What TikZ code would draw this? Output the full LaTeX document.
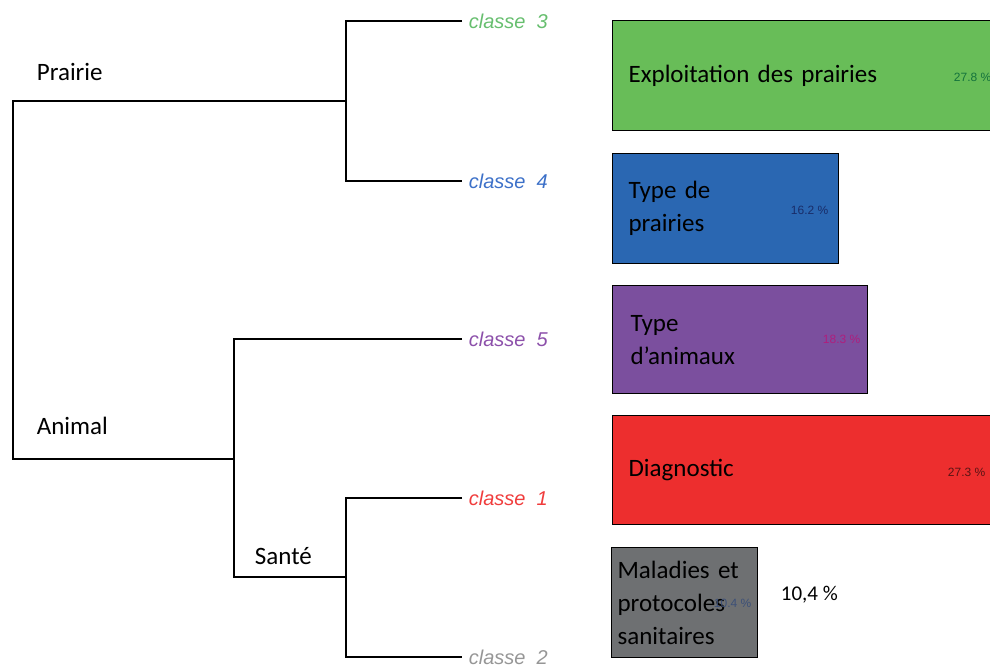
\documentclass[tikz,border=0pt]{standalone}
\usepackage{fontspec}
\setmainfont{Carlito}
\newfontfamily\arialfont{Liberation Sans}
\usetikzlibrary{positioning}

\definecolor{vertbox}{RGB}{104,189,88}
\definecolor{bleubox}{RGB}{42,103,178}
\definecolor{violetbox}{RGB}{123,79,158}
\definecolor{rougebox}{RGB}{237,46,46}
\definecolor{grisbox}{RGB}{110,112,114}
\definecolor{vertleaf}{RGB}{102,190,110}
\definecolor{bleuleaf}{RGB}{60,112,200}
\definecolor{violetleaf}{RGB}{140,80,170}
\definecolor{rougeleaf}{RGB}{240,60,60}
\definecolor{grisleaf}{RGB}{150,150,150}

\begin{document}
\begin{tikzpicture}[x=0.5pt, y=-0.5pt, line width=0.9pt,
    leaf/.style={anchor=west, inner sep=3pt, font=\arialfont\itshape\fontsize{10}{12}\selectfont},
    grp/.style={anchor=west, inner sep=0pt, font=\fontsize{12.5}{15}\selectfont},
    box/.style={draw=black, line width=0.6pt, anchor=north west, align=left, inner xsep=8pt, minimum height=55pt, font=\fontsize{12.5}{16.5}\selectfont},
    pct/.style={anchor=west, inner sep=0pt, font=\arialfont\fontsize{6}{7}\selectfont}]
    \useasboundingbox (0,0) rectangle (990,666);

    % feuilles
    \node[leaf, vertleaf] (c3) at (462,21) {classe\ \ 3};
    \node[leaf, bleuleaf] (c4) at (462,181) {classe\ \ 4};
    \node[leaf, violetleaf] (c5) at (462,339) {classe\ \ 5};
    \node[leaf, rougeleaf] (c1) at (462,498) {classe\ \ 1};
    \node[leaf, grisleaf] (c2) at (462,657) {classe\ \ 2};

    % noeuds internes
    \coordinate (j34) at (346,101);
    \coordinate (j12) at (346,577);
    \coordinate (jA) at (234,459);
    \coordinate (root) at (13,280);

    \draw (c3.west) -| (j34) |- (c4.west);
    \draw (c1.west) -| (j12) |- (c2.west);
    \draw (c5.west) -| (jA) |- (j12);
    \draw (j34) -| (root) |- (jA);

    \node[grp] (prairie) at (36,72) {Prairie};
    \node[grp] (animal) at (36,426) {Animal};
    \node[grp] (sante) at (254,556) {Santé};

    % classes
    \node[box, fill=vertbox, text width=184pt] (b3) at (612,20) {Exploitation des prairies};
    \node[box, fill=bleubox, text width=97pt] (b4) at (612,153) {Type de\\prairies};
    \node[box, fill=violetbox, text width=109.5pt, minimum height=54pt, inner xsep=9pt] (b5) at (612,285) {Type\\d’animaux};
    \node[box, fill=rougebox, text width=184pt, minimum height=54.5pt] (b1) at (612,415) {Diagnostic};
    \node[box, fill=grisbox, text width=67pt, inner xsep=3pt] (b2) at (611,547) {Maladies et\\protocoles\\sanitaires};

    \node[pct, text={rgb,255:red,20;green,115;blue,60}] (p3) at (953,77) {27.8 \%};
    \node[pct, text={rgb,255:red,25;green,45;blue,105}] (p4) at (790,210) {16.2 \%};
    \node[pct, text={rgb,255:red,175;green,30;blue,125}] (p5) at (822,339) {18.3 \%};
    \node[pct, text={rgb,255:red,90;green,20;blue,20}] (p1) at (947,472) {27.3 \%};
    \node[pct, text={rgb,255:red,60;green,80;blue,120}] (p2) at (713,603) {10.4 \%};
    \node[grp, font=\fontsize{10.5}{12}\selectfont] (p2b) at (780,595) {10,4 \%};
\end{tikzpicture}
\end{document}
